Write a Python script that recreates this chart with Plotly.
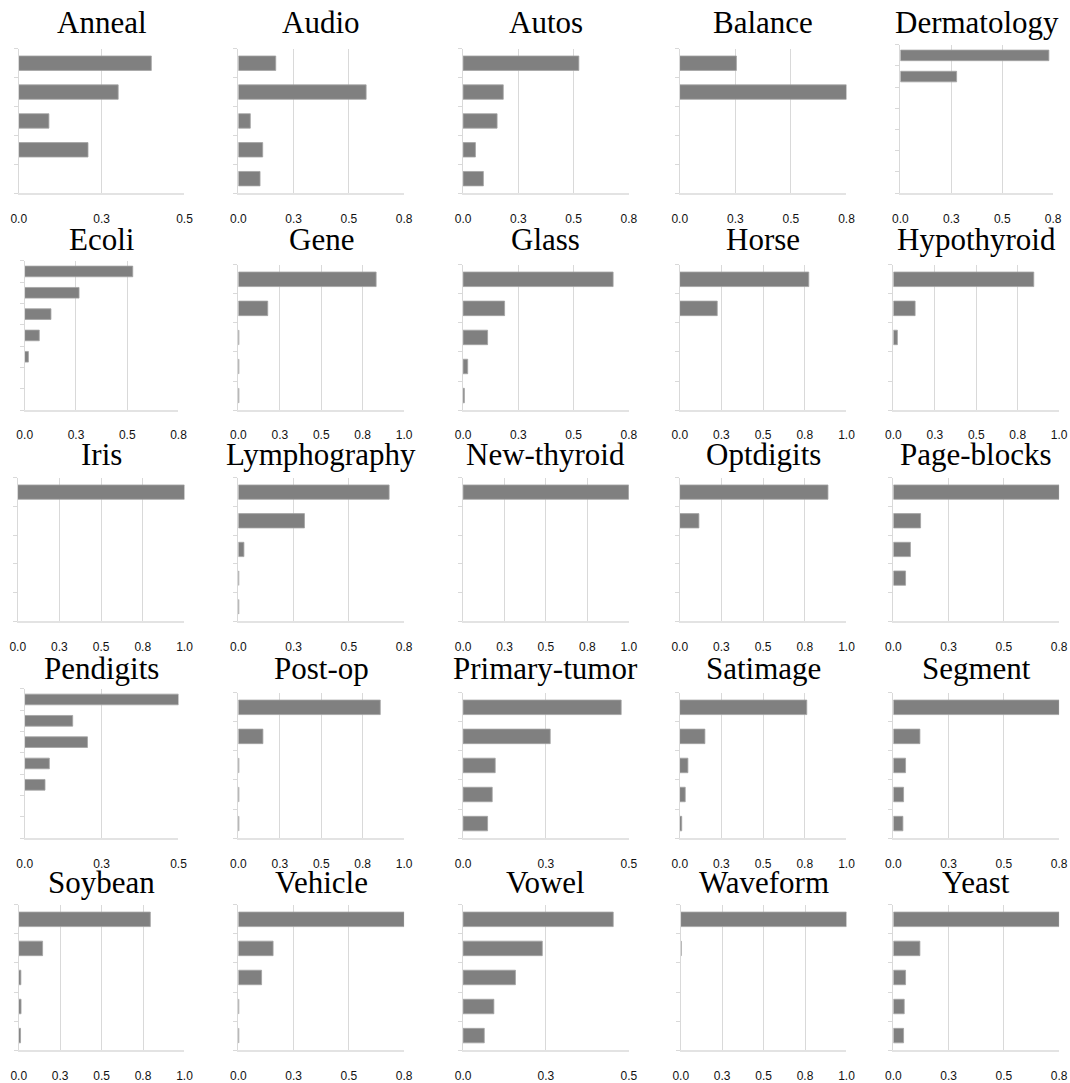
import plotly.graph_objects as go

# ---------------- data ----------------
DATASETS = ["Anneal", "Audio", "Autos", "Balance", "Dermatology",
            "Ecoli", "Gene", "Glass", "Horse", "Hypothyroid",
            "Iris", "Lymphography", "New-thyroid", "Optdigits", "Page-blocks",
            "Pendigits", "Post-op", "Primary-tumor", "Satimage", "Segment",
            "Soybean", "Vehicle", "Vowel", "Waveform", "Yeast"]

# number of category slots on each panel's y axis
SLOTS = [5, 5, 5, 5, 7,
         7, 5, 5, 5, 5,
         5, 5, 5, 5, 5,
         7, 5, 5, 5, 5,
         5, 5, 5, 5, 5]

# axis maximum of each panel
AXIS_MAX = [0.5, 0.75, 0.75, 0.75, 0.75,
            0.75, 1.0, 0.75, 1.0, 1.0,
            1.0, 0.75, 1.0, 1.0, 0.75,
            0.5, 1.0, 0.5, 1.0, 0.75,
            1.0, 0.75, 0.5, 1.0, 0.75]

anneal = [0.400, 0.300, 0.091, 0.209]
audio = [0.169, 0.578, 0.054, 0.110, 0.098]
autos = [0.524, 0.182, 0.154, 0.056, 0.092]
balance = [0.255, 0.75]
dermatology = [0.729, 0.276]
ecoli = [0.527, 0.265, 0.128, 0.071, 0.018]
gene = [0.831, 0.177, 0.003, 0.003, 0.003]
glass = [0.679, 0.188, 0.111, 0.021, 0.006]
horse = [0.774, 0.225]
hypothyroid = [0.847, 0.131, 0.024]
iris = [1.0]
lymphography = [0.682, 0.299, 0.025, 0.002, 0.002]
new_thyroid = [1.0]
optdigits = [0.889, 0.115]
page_blocks = [0.75, 0.123, 0.077, 0.055]
pendigits = [0.5, 0.156, 0.204, 0.080, 0.066]
post_op = [0.856, 0.148, 0.003, 0.003, 0.003]
primary_tumor = [0.477, 0.263, 0.097, 0.088, 0.074]
satimage = [0.762, 0.151, 0.049, 0.033, 0.012]
segment = [0.75, 0.120, 0.055, 0.046, 0.043]
soybean = [0.794, 0.144, 0.013, 0.014, 0.011]
vehicle = [0.75, 0.157, 0.105, 0.002, 0.002]
vowel = [0.453, 0.239, 0.158, 0.093, 0.064]
waveform = [1.0, 0.003]
yeast = [0.75, 0.120, 0.055, 0.049, 0.046]

VALUES = [anneal, audio, autos, balance, dermatology,
          ecoli, gene, glass, horse, hypothyroid,
          iris, lymphography, new_thyroid, optdigits, page_blocks,
          pendigits, post_op, primary_tumor, satimage, segment,
          soybean, vehicle, vowel, waveform, yeast]

TICK_STEP = 0.25
TICK_TEXT = {0.5: ["0.0", "0.3", "0.5"],
             0.75: ["0.0", "0.3", "0.5", "0.8"],
             1.0: ["0.0", "0.3", "0.5", "0.8", "1.0"]}

# ---------------- layout (pixel boxes in the target picture) ----------------
W, H = 1070, 1083
COL_X = [
    [(18, 184), (238, 404), (463, 629), (680, 847), (901, 1054)],
    [(24, 178), (238, 404), (463, 629), (680, 847), (894, 1060)],
    [(17, 184), (238, 404), (463, 629), (680, 847), (894, 1060)],
    [(24, 178), (238, 404), (463, 629), (680, 847), (894, 1060)],
    [(18, 184), (238, 404), (463, 629), (681, 847), (894, 1060)],
]
ROW_Y = [
    [(49, 194)] * 4 + [(45, 194)],
    [(262, 412)] + [(266, 412)] * 4,
    [(480, 624)] * 5,
    [(692, 842)] + [(696, 842)] * 4,
    [(909, 1055)] * 5,
]
TITLE_Y = [23, 241, 457, 672, 887]

# the page is photographed slightly narrowed horizontally; compensate
SHOT_OFFSET, SHOT_SCALE = 7.26, 0.9856


def px_x(x):
    return (x - SHOT_OFFSET) / SHOT_SCALE / W


BAR = "#808080"
GRID = "#d9d9d9"

fig = go.Figure()
layout = dict(width=W, height=H, autosize=False,
              margin=dict(l=0, r=0, t=0, b=0, pad=0),
              paper_bgcolor="white", plot_bgcolor="white",
              showlegend=False, bargap=0.5, annotations=[])

for i, name in enumerate(DATASETS):
    r, c = divmod(i, 5)
    x0, x1 = COL_X[r][c]
    top, bot = ROW_Y[r][c]
    ax = "" if i == 0 else str(i + 1)
    vals = VALUES[i]
    n = SLOTS[i]
    mx = AXIS_MAX[i]
    fig.add_trace(go.Bar(
        x=vals, y=list(range(len(vals))), orientation="h",
        xaxis="x" + ax, yaxis="y" + ax,
        marker=dict(color=BAR, line=dict(color="#a3a3a3", width=0.8)),
        hoverinfo="x"))
    ticks = [k * TICK_STEP for k in range(int(round(mx / TICK_STEP)) + 1)]
    layout["xaxis" + ax] = dict(
        domain=[px_x(x0), px_x(x1)], anchor="y" + ax, range=[0, mx],
        tickvals=ticks, ticktext=TICK_TEXT[mx],
        showgrid=True, gridcolor=GRID, gridwidth=1, zeroline=False,
        showline=True, linecolor="#e3e3e3", linewidth=2,
        ticks="", ticklabelstandoff=13,
        tickfont=dict(family="Liberation Sans, Arial", size=12, color="#111111"),
        fixedrange=True)
    layout["yaxis" + ax] = dict(
        domain=[1 - bot / H, 1 - top / H], anchor="x" + ax,
        range=[n - 0.5, -0.5],
        tickvals=[k - 0.5 for k in range(n + 1)],
        showticklabels=False, showgrid=False, zeroline=False,
        showline=True, linecolor=GRID, linewidth=1,
        ticks="outside", ticklen=4, tickcolor=GRID, tickwidth=1,
        fixedrange=True)
    layout["annotations"].append(dict(
        text=name, xref="paper", yref="paper",
        x=px_x((x0 + x1) / 2), y=1 - TITLE_Y[r] / H,
        xanchor="center", yanchor="middle", showarrow=False,
        font=dict(family="Liberation Serif, Times New Roman", size=31,
                  color="black")))

fig.update_layout(**layout)
fig.write_html(
    "out.html",
    config={"responsive": False, "displayModeBar": False},
    post_script="document.body.style.margin='0';"
                "document.body.style.padding='0';"
                "document.documentElement.style.overflow='hidden';"
                "document.body.style.overflow='hidden';")
